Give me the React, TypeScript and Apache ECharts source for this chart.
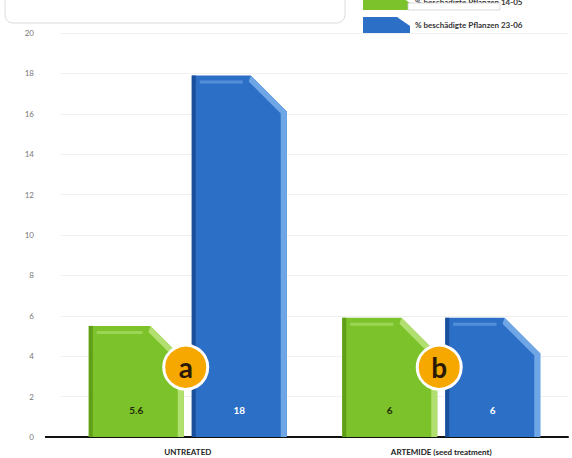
import React, { useEffect, useRef } from "react";
import * as echarts from "echarts";

const categories = ["UNTREATED", "ARTEMIDE (seed treatment)"];
const seriesNames = ["% beschädigte Pflanzen 14-05", "% beschädigte Pflanzen 23-06"];
const valuesFirst = [5.6, 6];
const valuesSecond = [18, 6];
const valueLabels = [["5.6", "6"], ["18", "6"]];
const annotationLetters = ["a", "b"];
const annotationValues = [3.4, 3.4];
const yTicks = { min: 0, max: 20, interval: 2 };

const palette = [
  { main: "#7cc22a", light: "#b2e070", dark: "#5f9e17", text: "#1e2a08" },
  { main: "#2c6fc6", light: "#6ea6e6", dark: "#1a4f9c", text: "#ffffff" },
];

function makeBarSeries(idx: number, values: number[]) {
  const col = palette[idx];
  return {
    type: "custom",
    name: seriesNames[idx],
    itemStyle: { color: col.main },
    data: values.map((v, i) => [i, v, valueLabels[idx][i]]),
    renderItem: (params: any, api: any) => {
      const cat = api.value(0);
      const val = api.value(1);
      const base = api.coord([cat, 0]);
      const top = api.coord([cat, val]);
      const dir = idx === 0 ? -1 : 1;
      const cx = base[0] + dir * 51.5;
      const w = 95;
      const x0 = cx - w / 2;
      const x1 = cx + w / 2;
      const y0 = top[1] + 2;
      const y1 = base[1];
      const c = Math.min(36, (y1 - y0) * 0.3);
      const s = 6;
      return {
        type: "group",
        children: [
          {
            type: "polygon",
            shape: { points: [[x0, y1], [x0, y0], [x1 - c, y0], [x1, y0 + c], [x1, y1]] },
            style: { fill: col.main },
          },
          {
            type: "polygon",
            shape: {
              points: [
                [x1 - c, y0], [x1, y0 + c], [x1, y1], [x1 - s, y1], [x1 - s, y0 + c + 2], [x1 - c - 2, y0 + s],
              ],
            },
            style: { fill: col.light },
          },
          {
            type: "rect",
            shape: { x: x0, y: y0, width: 4, height: y1 - y0 },
            style: { fill: col.dark },
          },
          {
            type: "rect",
            shape: { x: x0 + 8, y: y0 + 5, width: Math.max(0, w - c - 16), height: 3 },
            style: { fill: col.light, opacity: 0.6 },
          },
          {
            type: "text",
            style: {
              text: api.value(2),
              x: cx,
              y: y1 - 27,
              align: "center",
              verticalAlign: "middle",
              fill: col.text,
              font: "bold 10px Lato, 'Noto Sans', sans-serif",
            },
          },
        ],
      };
    },
  };
}

export default function App() {
  const ref = useRef<HTMLDivElement>(null);
  useEffect(() => {
    if (!ref.current) return;
    const chart = echarts.init(ref.current, null, { renderer: "svg" });
    const iconPath = "path://M0,0 L34,0 L47,9 L47,16 L0,16 Z";
    chart.setOption({
      animation: false,
      textStyle: { fontFamily: "Lato, 'Noto Sans', sans-serif" },
      grid: { left: 61, right: 4, top: 33, bottom: 21 },
      legend: {
        orient: "vertical",
        left: 358,
        top: -11,
        itemGap: 7,
        itemWidth: 47,
        itemHeight: 16,
        textStyle: { fontSize: 8, color: "#333", fontWeight: "bold" },
        data: seriesNames.map((n) => ({ name: n, icon: iconPath })),
      },
      xAxis: {
        type: "category",
        data: categories,
        axisLine: { lineStyle: { color: "#111", width: 2 } },
        axisTick: { show: false },
        axisLabel: { fontSize: 8, fontWeight: "bold", color: "#222", margin: 11 },
      },
      yAxis: {
        type: "value",
        min: yTicks.min,
        max: yTicks.max,
        interval: yTicks.interval,
        axisLine: { show: false },
        axisTick: { show: false },
        axisLabel: { fontSize: 8, color: "#777", margin: 27 },
        splitLine: { lineStyle: { color: "#f0f0f0", width: 1 } },
      },
      graphic: [
        {
          type: "rect",
          shape: { x: 5, y: -12, width: 340, height: 35, r: 8 },
          style: { fill: "#fff", stroke: "#dcdcdc", lineWidth: 1 },
        },
        {
          type: "line",
          shape: { x1: 45, y1: 437, x2: 62, y2: 437 },
          style: { stroke: "#111", lineWidth: 2 },
        },
        {
          type: "rect",
          shape: { x: 408, y: 3, width: 92, height: 7 },
          style: { fill: "#fff", stroke: "#cfcfcf", lineWidth: 0.8 },
          z: 100,
        },
      ],
      series: [
        makeBarSeries(0, valuesFirst),
        makeBarSeries(1, valuesSecond),
        {
          type: "custom",
          name: "annotations",
          z: 10,
          data: annotationValues.map((v, i) => [i, v, annotationLetters[i]]),
          renderItem: (params: any, api: any) => {
            const p = api.coord([api.value(0), api.value(1)]);
            return {
              type: "group",
              children: [
                {
                  type: "circle",
                  shape: { cx: p[0] - 2, cy: p[1] - 1, r: 22 },
                  style: { fill: "#f6a800", stroke: "#ffffff", lineWidth: 3 },
                },
                {
                  type: "text",
                  style: {
                    text: api.value(2),
                    x: p[0] - 2,
                    y: p[1] - 1,
                    align: "center",
                    verticalAlign: "middle",
                    fill: "#2a1a05",
                    font: "bold 28px Lato, 'Noto Sans', sans-serif",
                  },
                },
              ],
            };
          },
        },
      ],
    });
    return () => chart.dispose();
  }, []);
  return (
    <div
      ref={ref}
      style={{ position: "absolute", left: 0, top: 0, width: 572, height: 458 }}
    />
  );
}
